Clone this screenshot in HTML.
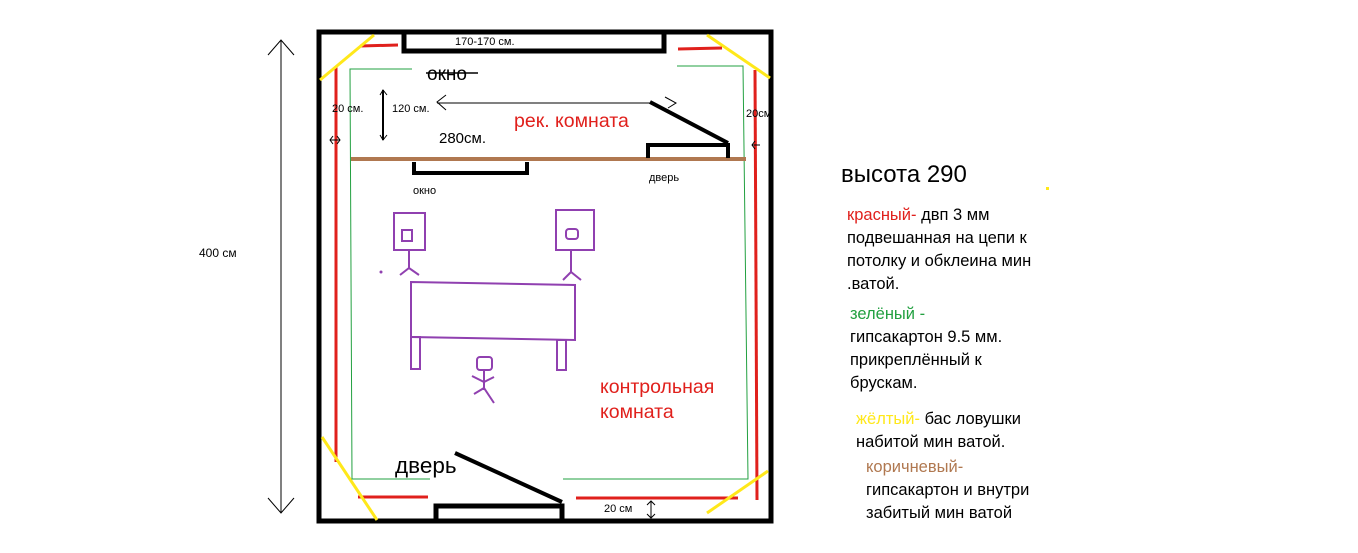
<!DOCTYPE html>
<html><head><meta charset="utf-8"><style>
html,body{margin:0;padding:0;background:#fff;}
svg{display:block;font-family:"Liberation Sans","DejaVu Sans",sans-serif;}
</style></head><body>
<svg width="1358" height="553" viewBox="0 0 1358 553" xmlns="http://www.w3.org/2000/svg">
<rect width="1358" height="553" fill="#fff"/>
<rect x="319" y="32" width="452" height="489" fill="none" stroke="#000" stroke-width="5"/>
<polyline points="404,33 404,51 664,51 664,33" fill="none" stroke="#000" stroke-width="5"/>
<text x="455" y="45" font-size="11">170-170 см.</text>
<g stroke="#e0201c" stroke-width="3" fill="none">
<line x1="360" y1="46" x2="398" y2="45"/>
<line x1="678" y1="49" x2="722" y2="48"/>
<line x1="336" y1="67" x2="336" y2="462"/>
<line x1="755" y1="70" x2="757" y2="500"/>
<line x1="358" y1="497" x2="428" y2="497"/>
<line x1="576" y1="498" x2="738" y2="498"/>
</g>
<g stroke="#ffe81a" stroke-width="3">
<line x1="320" y1="80" x2="374" y2="35"/>
<line x1="707" y1="35" x2="770" y2="78"/>
<line x1="322" y1="437" x2="377" y2="520"/>
<line x1="707" y1="513" x2="768" y2="471"/>
</g>
<g stroke="#22a040" stroke-width="1" fill="none">
<polyline points="412,69 350,69 352,479 430,479"/>
<polyline points="677,66 743,66 748,479 563,479"/>
</g>
<text x="427" y="80" font-size="19" fill="#000">окно</text>
<line x1="426" y1="73" x2="478" y2="73" stroke="#000" stroke-width="1.5"/>
<line x1="351" y1="159" x2="746" y2="159" stroke="#b07850" stroke-width="4"/>
<polyline points="414,162 414,173 527,173 527,162" fill="none" stroke="#000" stroke-width="4"/>
<text x="413" y="194" font-size="11">окно</text>
<polyline points="648,158 648,145 728,145 728,158" fill="none" stroke="#000" stroke-width="4"/>
<line x1="650" y1="102" x2="728" y2="143" stroke="#000" stroke-width="4"/>
<text x="649" y="181" font-size="11">дверь</text>
<line x1="437" y1="103" x2="650" y2="103" stroke="#000" stroke-width="1"/>
<path d="M446,95 L437,102 L446,110 M665,97 L676,103 L668,108" fill="none" stroke="#000" stroke-width="1"/>
<text x="439" y="143" font-size="15">280см.</text>
<text x="514" y="127" font-size="19.5" fill="#e0201c">рек. комната</text>
<line x1="383" y1="90" x2="383" y2="140" stroke="#000" stroke-width="2"/>
<path d="M380,95 L383,90 L387,95 M380,135 L383,140 L387,135" fill="none" stroke="#000" stroke-width="1"/>
<text x="332" y="112" font-size="11">20 см.</text>
<text x="392" y="112" font-size="11">120 см.</text>
<text x="746" y="117" font-size="11">20см.</text>
<path d="M330,140 L340,140 M333,136 L330,140 L333,144 M337,136 L340,140 L337,144" fill="none" stroke="#000" stroke-width="1"/>
<path d="M752,145 L760,145 M755,141 L752,145 L755,149" fill="none" stroke="#000" stroke-width="1"/>
<line x1="281" y1="40" x2="281" y2="513" stroke="#000" stroke-width="1"/>
<path d="M268,55 L281,40 L294,55 M268,498 L281,513 L294,498" fill="none" stroke="#000" stroke-width="1"/>
<text x="199" y="257" font-size="12">400 см</text>
<g stroke="#9040b0" stroke-width="2" fill="none">
<rect x="394" y="213" width="31" height="37"/>
<rect x="402" y="230" width="10" height="11"/>
<line x1="409" y1="250" x2="409" y2="268"/>
<path d="M400,275 L409,268 L419,275"/>
<rect x="556" y="210" width="38" height="40"/>
<rect x="566" y="229" width="12" height="10" rx="3"/>
<line x1="571" y1="250" x2="571" y2="272"/>
<path d="M563,280 L571,272 L581,280"/>
<path d="M411,282 L575,285 L575,340 L411,337 Z"/>
<rect x="411" y="337" width="9" height="32"/>
<rect x="557" y="340" width="9" height="30"/>
<rect x="477" y="357" width="15" height="13" rx="3"/>
<line x1="484" y1="370" x2="484" y2="390"/>
<path d="M472,376 L484,382 L494,377 M474,394 L484,388 L494,403"/>
</g>
<circle cx="381" cy="272" r="1.5" fill="#9040b0"/>
<polyline points="436,521 436,506 562,506 562,521" fill="none" stroke="#000" stroke-width="5"/>
<line x1="455" y1="453" x2="562" y2="502" stroke="#000" stroke-width="4"/>
<text x="395" y="473" font-size="22.5">дверь</text>
<text x="600" y="393" font-size="19.5" fill="#e0201c">контрольная</text>
<text x="600" y="418" font-size="19.5" fill="#e0201c">комната</text>
<text x="604" y="512" font-size="11">20 см</text>
<path d="M651,501 L651,518 M647,505 L651,501 L655,505 M647,514 L651,518 L655,514" fill="none" stroke="#000" stroke-width="1"/>
<text x="841" y="182" font-size="24">высота 290</text>
<rect x="1046" y="187" width="3" height="3" fill="#ffe81a"/>
<g font-size="16.5">
<text x="847" y="220"><tspan fill="#e0201c">красный-</tspan> двп 3 мм</text>
<text x="847" y="243">подвешанная на цепи к</text>
<text x="847" y="266">потолку и обклеина мин</text>
<text x="847" y="289">.ватой.</text>
<text x="850" y="319" fill="#22a040">зелёный -</text>
<text x="850" y="342">гипсакартон 9.5 мм.</text>
<text x="850" y="365">прикреплённый  к</text>
<text x="850" y="388">брускам.</text>
<text x="856" y="424"><tspan fill="#ffe81a">жёлтый-</tspan> бас ловушки</text>
<text x="856" y="447">набитой мин ватой.</text>
<text x="866" y="472" fill="#b07850">коричневый-</text>
<text x="866" y="495">гипсакартон и внутри</text>
<text x="866" y="518">забитый мин ватой</text>
</g>
</svg>
</body></html>
